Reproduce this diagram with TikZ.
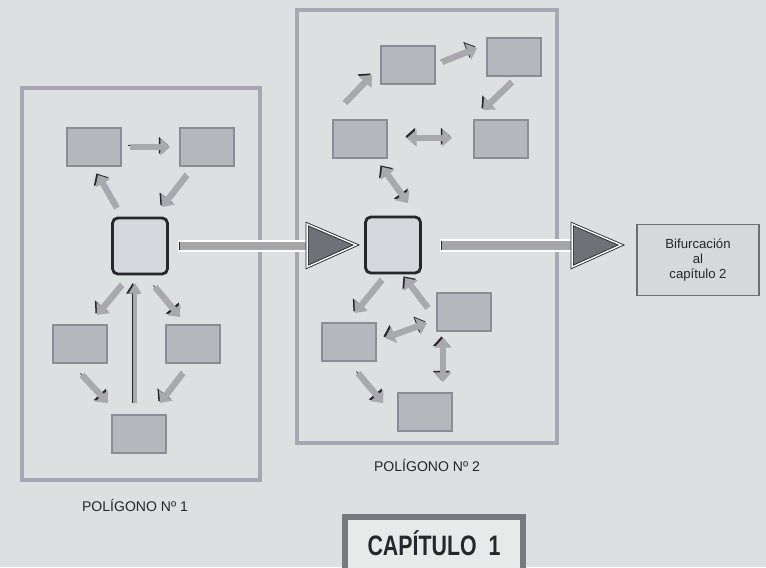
\documentclass[tikz,border=0pt]{standalone}
\usepackage{fontspec}
\setmainfont{Liberation Sans}
\newfontfamily\condfont[FakeStretch=0.76]{Liberation Sans}
\usetikzlibrary{arrows.meta}
\definecolor{paper}{RGB}{220,224,224}
\definecolor{boxgray}{RGB}{182,182,189}
\definecolor{boxedge}{RGB}{140,140,150}
\definecolor{framegray}{RGB}{168,166,180}
\definecolor{arrgray}{RGB}{168,168,174}
\definecolor{headgray}{RGB}{112,112,120}
\definecolor{inkdark}{RGB}{38,38,44}
\definecolor{hubfill}{RGB}{214,215,220}
\definecolor{shaftgray}{RGB}{165,165,170}
\definecolor{bifedge}{RGB}{110,110,118}
\definecolor{biffill}{RGB}{214,216,218}
\definecolor{chapedge}{RGB}{120,120,128}
\definecolor{chapfill}{RGB}{232,234,234}
\tikzset{
  polybox/.style={draw=boxedge,fill=boxgray,line width=.6pt,minimum width=1.08cm,minimum height=.76cm,inner sep=0pt},
  hubbox/.style={draw=inkdark,fill=hubfill,line width=1.6pt,rounded corners=3pt,minimum width=1.1cm,minimum height=1.12cm,inner sep=0pt},
  polyframe/.style={draw=framegray,line width=2.6pt,inner sep=0pt},
  polylabel/.style={font=\fontsize{8}{9}\selectfont,text=inkdark},
  fatarr/.style={arrgray,line width=3.6pt,-{Triangle[length=5.5pt,width=9.5pt]},
    preaction={draw=inkdark,transform canvas={shift={(-.9pt,.9pt)}}}},
  fatdbl/.style={arrgray,line width=3.6pt,{Triangle[length=5.5pt,width=9.5pt]}-{Triangle[length=5.5pt,width=9.5pt]},
    preaction={draw=inkdark,transform canvas={shift={(-.9pt,.9pt)}}}},
  thinarr/.style={arrgray,line width=1.8pt,-{Triangle[length=6pt,width=7pt]},
    preaction={draw=inkdark,transform canvas={shift={(-1.3pt,0pt)}}}},
  bigshaft/.style={draw=inkdark,double=white,double distance=.6pt,fill=shaftgray,line width=.4pt},
  bighead/.style={draw=inkdark,double=white,double distance=.8pt,fill=headgray,line width=.5pt,line join=miter},
  bifbox/.style={draw=bifedge,fill=biffill,line width=1pt,minimum width=2.44cm,minimum height=1.42cm,align=center,font=\fontsize{7.5}{8.5}\selectfont,text=inkdark},
  chapbox/.style={draw=chapedge,fill=chapfill,line width=3pt,minimum width=3.56cm,minimum height=1.24cm},
  chaptext/.style={font=\condfont\bfseries\fontsize{16}{18}\selectfont,text=inkdark}
}
\begin{document}
\begin{tikzpicture}[x=0.02cm,y=-0.02cm]
  \useasboundingbox (0,0) rectangle (766,567);
  \fill[paper] (0,0) rectangle (766,567);
  \clip (0,0) rectangle (766,567);

  % polygon 1
  \node[polyframe,minimum width=4.76cm,minimum height=7.84cm] (frame1) at (141,284) {};
  \node[polybox] (tl) at (94,147) {};
  \node[polybox] (tr) at (207,147) {};
  \node[hubbox] (hub1) at (140,246) {};
  \node[polybox] (ml) at (80,344) {};
  \node[polybox] (mr) at (193,344) {};
  \node[polybox] (bt) at (139,434) {};
  \node[polylabel] (lbl1) at (135,505) {POLÍGONO Nº 1};
  \draw[fatarr] ([shift={(36,0)}]tl.center) -- ([shift={(-37,0)}]tr.center);
  \draw[fatarr] ([shift={(-20,28)}]tr.center) -- ([shift={(22,-39)}]hub1.center);
  \draw[fatarr] ([shift={(-23,-38)}]hub1.center) -- ([shift={(4,28)}]tl.center);
  \draw[fatarr] ([shift={(-18,39)}]hub1.center) -- ([shift={(17,-29)}]ml.center);
  \draw[fatarr] ([shift={(15,41)}]hub1.center) -- ([shift={(-13,-27)}]mr.center);
  \draw[fatarr] ([shift={(2,31)}]ml.center) -- ([shift={(-31,-31)}]bt.center);
  \draw[fatarr] ([shift={(-10,29)}]mr.center) -- ([shift={(21,-31)}]bt.center);
  \draw[thinarr] ([shift={(-4,-31)}]bt.center) -- ([shift={(-5,37)}]hub1.center);

  % polygon 2
  \node[polyframe,minimum width=5.2cm,minimum height=8.66cm] (frame2) at (427,226.5) {};
  \node[polybox] (pa) at (408,65) {};
  \node[polybox] (pb) at (514,57) {};
  \node[polybox] (pc) at (360,139) {};
  \node[polybox] (pd) at (501,139) {};
  \node[hubbox] (hub2) at (393,245) {};
  \node[polybox] (pf) at (464,312) {};
  \node[polybox] (pg) at (349,342) {};
  \node[polybox] (ph) at (425,412) {};
  \node[polylabel] (lbl2) at (427,465) {POLÍGONO Nº 2};
  \draw[fatarr] ([shift={(-15,-36)}]pc.center) -- ([shift={(-36,10)}]pa.center);
  \draw[fatarr] ([shift={(34,-3)}]pa.center) -- ([shift={(-37,-9)}]pb.center);
  \draw[fatarr] ([shift={(-2,25)}]pb.center) -- ([shift={(-18,-29)}]pd.center);
  \draw[fatdbl] ([shift={(47,-1)}]pc.center) -- ([shift={(-49,-1)}]pd.center);
  \draw[fatdbl] ([shift={(22,28)}]pc.center) -- ([shift={(15,-42)}]hub2.center);
  \draw[fatarr] ([shift={(-11,35)}]hub2.center) -- ([shift={(6,-29)}]pg.center);
  \draw[fatarr] ([shift={(-36,-4)}]pf.center) -- ([shift={(12,33)}]hub2.center);
  \draw[fatdbl] ([shift={(36,-4)}]pg.center) -- ([shift={(-37,11)}]pf.center);
  \draw[fatdbl] ([shift={(-21,26)}]pf.center) -- ([shift={(18,-30)}]ph.center);
  \draw[fatarr] ([shift={(9,31)}]pg.center) -- ([shift={(-42,-9)}]ph.center);

  % big arrows and exit
  \node[bifbox] (bif) at (698,260) {Bifurcación\\al\\capítulo 2};
  \draw[bigshaft] ([shift={(10,-5)}]hub1.east) rectangle ([shift={(-57,6)}]hub2.west);
  \filldraw[bighead] ([shift={(-57,-21)}]hub2.west) -- ([shift={(-8,0)}]hub2.west) -- ([shift={(-57,22)}]hub2.west) -- cycle;
  \draw[bigshaft] ([shift={(19,-5)}]hub2.east) rectangle ([shift={(-64,6)}]bif.west |- hub2.east);
  \filldraw[bighead] ([shift={(-64,-21)}]bif.west |- hub2.east) -- ([shift={(-15,0)}]bif.west |- hub2.east) -- ([shift={(-64,22)}]bif.west |- hub2.east) -- cycle;

  % chapter tab
  \node[chapbox] (chap) at (434,548) {};
  \node[chaptext] (chaplbl) at (434,543) {CAPÍTULO\ \ 1};
\end{tikzpicture}
\end{document}
